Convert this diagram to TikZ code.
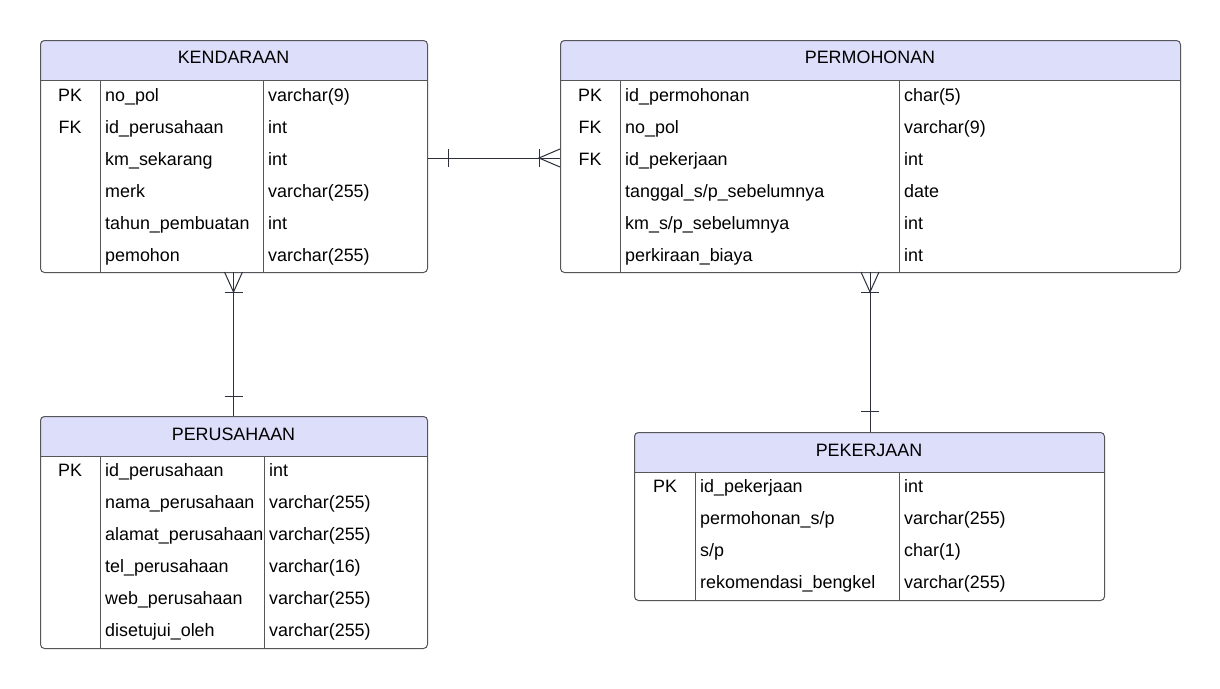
\documentclass[tikz,border=0pt]{standalone}
\usepackage{fontspec}
\setmainfont{Liberation Sans}
\usetikzlibrary{calc}
\definecolor{hdrfill}{RGB}{221,222,250}
\definecolor{edge}{RGB}{85,85,90}
\definecolor{conncol}{RGB}{45,48,58}
\tikzset{
  tbl/.style={draw=edge, line width=1pt, rounded corners=4pt, anchor=north west, inner sep=0pt},
  hdr/.style={fill=hdrfill},
  sep/.style={draw=edge, line width=1pt},
  txt/.style={anchor=base west, inner sep=0pt, font=\fontsize{17.9}{21}\selectfont, text=black},
  key/.style={anchor=base, inner sep=0pt, font=\fontsize{17.9}{21}\selectfont, text=black},
  title/.style={anchor=base, inner sep=0pt, font=\fontsize{17.9}{21}\selectfont, text=black},
  conn/.style={draw=conncol, line width=1pt}
}
\begin{document}
\begin{tikzpicture}[x=1pt,y=-1pt]
\useasboundingbox (0,0) rectangle (1220,688);
\fill[white] (0,0) rectangle (1220,688);

% ---------- KENDARAAN ----------
\begin{scope}
\clip[rounded corners=4pt] (40,40) rectangle (427,272);
\fill[hdr] (40,40) rectangle (427,80);
\end{scope}
\node[tbl, minimum width=387pt, minimum height=232pt] (ken) at (40,40) {};
\draw[sep] (40,80) -- (427,80);
\draw[sep] (100,80) -- (100,272);
\draw[sep] (263,80) -- (263,272);
\node[title] (kent) at (233.5,63.5) {KENDARAAN};
\node[key] (k1k) at (70,101) {PK};
\node[key] (k2k) at (70,133) {FK};
\node[txt] (k1) at (105,101) {no\_pol};
\node[txt] (k2) at (105,133) {id\_perusahaan};
\node[txt] (k3) at (105,165) {km\_sekarang};
\node[txt] (k4) at (105,197) {merk};
\node[txt] (k5) at (105,229) {tahun\_pembuatan};
\node[txt] (k6) at (105,261) {pemohon};
\node[txt] (k1t) at (268,101) {varchar(9)};
\node[txt] (k2t) at (268,133) {int};
\node[txt] (k3t) at (268,165) {int};
\node[txt] (k4t) at (268,197) {varchar(255)};
\node[txt] (k5t) at (268,229) {int};
\node[txt] (k6t) at (268,261) {varchar(255)};

% ---------- PERMOHONAN ----------
\begin{scope}
\clip[rounded corners=4pt] (560,40) rectangle (1180,272);
\fill[hdr] (560,40) rectangle (1180,80);
\end{scope}
\node[tbl, minimum width=620pt, minimum height=232pt] (perm) at (560,40) {};
\draw[sep] (560,80) -- (1180,80);
\draw[sep] (620,80) -- (620,272);
\draw[sep] (899,80) -- (899,272);
\node[title] (permt) at (870,63.5) {PERMOHONAN};
\node[key] (p1k) at (590,101) {PK};
\node[key] (p2k) at (590,133) {FK};
\node[key] (p3k) at (590,165) {FK};
\node[txt] (p1) at (625,101) {id\_permohonan};
\node[txt] (p2) at (625,133) {no\_pol};
\node[txt] (p3) at (625,165) {id\_pekerjaan};
\node[txt] (p4) at (625,197) {tanggal\_s/p\_sebelumnya};
\node[txt] (p5) at (625,229) {km\_s/p\_sebelumnya};
\node[txt] (p6) at (625,261) {perkiraan\_biaya};
\node[txt] (p1t) at (904,101) {char(5)};
\node[txt] (p2t) at (904,133) {varchar(9)};
\node[txt] (p3t) at (904,165) {int};
\node[txt] (p4t) at (904,197) {date};
\node[txt] (p5t) at (904,229) {int};
\node[txt] (p6t) at (904,261) {int};

% ---------- PERUSAHAAN ----------
\begin{scope}
\clip[rounded corners=4pt] (40,416) rectangle (427,648);
\fill[hdr] (40,416) rectangle (427,456);
\end{scope}
\node[tbl, minimum width=387pt, minimum height=232pt] (per) at (40,416) {};
\draw[sep] (40,456) -- (427,456);
\draw[sep] (100,456) -- (100,648);
\draw[sep] (264,456) -- (264,648);
\node[title] (pert) at (233.5,440) {PERUSAHAAN};
\node[key] (r1k) at (70,476) {PK};
\node[txt] (r1) at (105,476) {id\_perusahaan};
\node[txt] (r2) at (105,508) {nama\_perusahaan};
\node[txt] (r3) at (105,540) {alamat\_perusahaan};
\node[txt] (r4) at (105,572) {tel\_perusahaan};
\node[txt] (r5) at (105,604) {web\_perusahaan};
\node[txt] (r6) at (105,636) {disetujui\_oleh};
\node[txt] (r1t) at (269,476) {int};
\node[txt] (r2t) at (269,508) {varchar(255)};
\node[txt] (r3t) at (269,540) {varchar(255)};
\node[txt] (r4t) at (269,572) {varchar(16)};
\node[txt] (r5t) at (269,604) {varchar(255)};
\node[txt] (r6t) at (269,636) {varchar(255)};

% ---------- PEKERJAAN ----------
\begin{scope}
\clip[rounded corners=4pt] (634,432) rectangle (1104,600);
\fill[hdr] (634,432) rectangle (1104,472);
\end{scope}
\node[tbl, minimum width=470pt, minimum height=168pt] (pek) at (634,432) {};
\draw[sep] (634,472) -- (1104,472);
\draw[sep] (695,472) -- (695,600);
\draw[sep] (899,472) -- (899,600);
\node[title] (pekt) at (869,456) {PEKERJAAN};
\node[key] (e1k) at (665,492) {PK};
\node[txt] (e1) at (700,492) {id\_pekerjaan};
\node[txt] (e2) at (700,524) {permohonan\_s/p};
\node[txt] (e3) at (700,556) {s/p};
\node[txt] (e4) at (700,588) {rekomendasi\_bengkel};
\node[txt] (e1t) at (904,492) {int};
\node[txt] (e2t) at (904,524) {varchar(255)};
\node[txt] (e3t) at (904,556) {char(1)};
\node[txt] (e4t) at (904,588) {varchar(255)};

% ---------- connectors ----------
\coordinate (c1a) at (ken.east |- 0,158);
\coordinate (c1b) at (perm.west |- 0,158);
\draw[conn] (c1a) -- (c1b);
\draw[conn] ($(c1a)+(20,-9)$) -- ($(c1a)+(20,9)$);
\draw[conn] ($(c1b)+(-21,-9)$) -- ($(c1b)+(-21,9)$);
\draw[conn] ($(c1b)+(0,-9)$) -- ($(c1b)+(-21,0)$) -- ($(c1b)+(0,9)$);

\coordinate (c2a) at (233.5,272);
\coordinate (c2b) at (233.5,416);
\draw[conn] (c2a) -- (c2b);
\draw[conn] ($(c2a)+(-9,20)$) -- ($(c2a)+(9,20)$);
\draw[conn] ($(c2a)+(-9,0)$) -- ($(c2a)+(0,20)$) -- ($(c2a)+(9,0)$);
\draw[conn] ($(c2b)+(-9,-20)$) -- ($(c2b)+(9,-20)$);

\coordinate (c3a) at (870,272);
\coordinate (c3b) at (870,432);
\draw[conn] (c3a) -- (c3b);
\draw[conn] ($(c3a)+(-9,20)$) -- ($(c3a)+(9,20)$);
\draw[conn] ($(c3a)+(-9,0)$) -- ($(c3a)+(0,20)$) -- ($(c3a)+(9,0)$);
\draw[conn] ($(c3b)+(-9,-21)$) -- ($(c3b)+(9,-21)$);
\end{tikzpicture}
\end{document}
